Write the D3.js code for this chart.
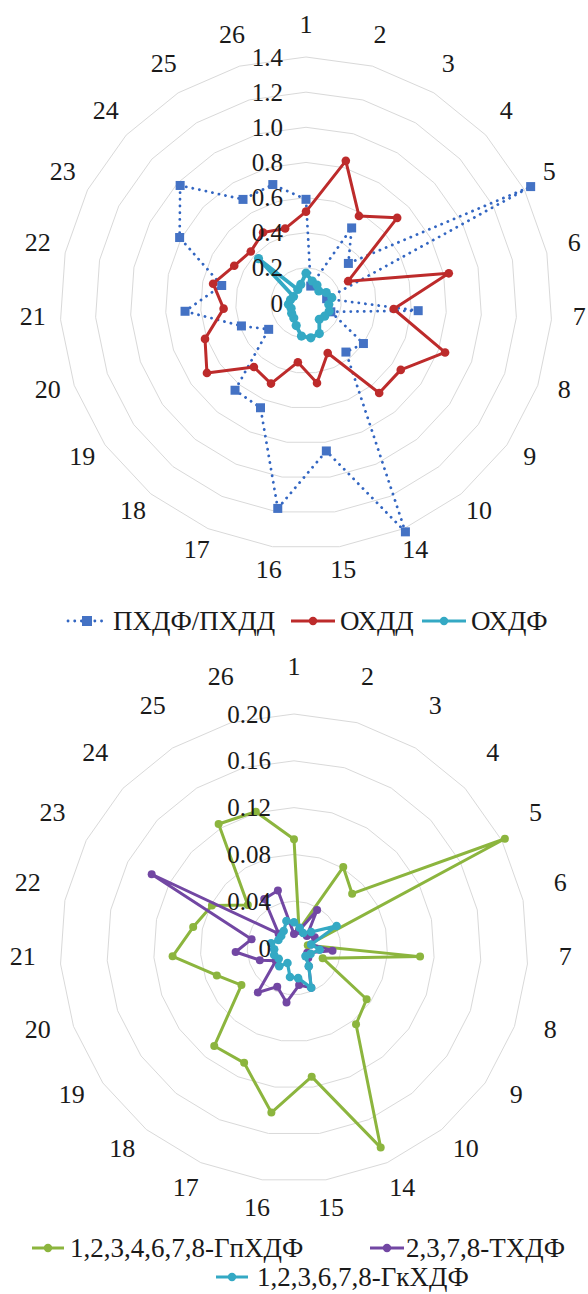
<!DOCTYPE html>
<html><head><meta charset="utf-8">
<script src="https://cdn.jsdelivr.net/npm/d3@7"></script>
<style>
body{margin:0;background:#fff}
svg{display:block}
text{font-family:"Liberation Serif","Times New Roman",serif;fill:#1a1a1a}
</style>
</head><body>
<svg id="c" width="588" height="1294"></svg>
<script>
// ---------- data ----------
const categories = ["1","2","3","4","5","6","7","8","9","10","14","15","16","17","18","19","20","21","22","23","24","25","26"];

// top chart
const pxdfPxdd = [0.59,0.10,0.50,0.33,1.44,0.12,0.64,0.15,0.40,0.36,1.42,0.85,1.18,0.65,0.64,0.26,0.39,0.69,0.49,0.81,0.98,0.69,0.70];
const oxdd     = [0.52,0.84,0.58,0.71,0.27,0.83,0.50,0.84,0.66,0.66,0.31,0.46,0.34,0.50,0.47,0.69,0.61,0.47,0.54,0.46,0.43,0.47,0.44];
const oxdf     = [0.17,0.13,0.12,0.10,0.13,0.15,0.13,0.14,0.13,0.12,0.19,0.20,0.19,0.14,0.11,0.10,0.09,0.10,0.09,0.08,0.37,0.09,0.11];
const topTicks = [0,0.2,0.4,0.6,0.8,1.0,1.2,1.4];
const topTickLabels = ["0","0.2","0.4","0.6","0.8","1.0","1.2","1.4"];
const topNames = ["ПХДФ/ПХДД","ОХДД","ОХДФ"];

// bottom chart
const gpxdf = [0.093,0.016,0.081,0.068,0.203,0.012,0.108,0.026,0.076,0.084,0.186,0.111,0.142,0.107,0.108,0.055,0.070,0.104,0.088,0.079,0.054,0.124,0.121];
const txdf  = [0.012,0.015,0.038,0.015,0.020,0.015,0.033,0.012,0.015,0.020,0.037,0.032,0.047,0.036,0.049,0.019,0.031,0.050,0.037,0.137,0.018,0.049,0.051];
const gkxdf = [0.022,0.018,0.015,0.020,0.041,0.015,0.022,0.015,0.012,0.020,0.037,0.026,0.025,0.014,0.020,0.016,0.018,0.017,0.020,0.015,0.015,0.017,0.024];
const bottomTicks = [0,0.04,0.08,0.12,0.16,0.20];
const bottomTickLabels = ["0","0.04","0.08","0.12","0.16","0.20"];
const bottomNames = ["1,2,3,4,6,7,8-ГпХДФ","2,3,7,8-ТХДФ","1,2,3,6,7,8-ГкХДФ"];

// ---------- styles ----------
const BLUE = "#3366c2", BLUE_M = "#4472c4", RED = "#bd2b2b", CYAN = "#34a9c4", GREEN = "#8cb53e", PURPLE = "#7247a3";
const GRID = "#d9d9d9";

const svg = d3.select("#c");

function drawRadar(opt) {
  const g = svg.append("g").attr("transform", `translate(${opt.cx},${opt.cy})`);
  const ang = d3.scaleBand().domain(categories).range([0, 2 * Math.PI]).paddingInner(0).paddingOuter(0);
  const a = c => ang(c);
  const r = d3.scaleLinear().domain([0, opt.max]).range([0, opt.R]);
  const px = (c, v) => r(v) * Math.sin(a(c));
  const py = (c, v) => -r(v) * Math.cos(a(c));

  // rings
  opt.ticks.filter(t => t > 0).forEach(t => {
    g.append("path")
      .attr("d", d3.lineRadial().angle(c => a(c)).radius(() => r(t)).curve(d3.curveLinearClosed)(categories))
      .attr("fill", "none").attr("stroke", GRID).attr("stroke-width", 1);
  });

  // series
  opt.series.forEach(s => {
    const line = d3.lineRadial().angle((d, i) => a(categories[i])).radius(d => r(d)).curve(d3.curveLinearClosed);
    g.append("path").attr("d", line(s.values))
      .attr("fill", "none").attr("stroke", s.color).attr("stroke-width", s.width)
      .attr("stroke-linejoin", "round")
      .attr("stroke-linecap", s.dotted ? "round" : "butt")
      .attr("stroke-dasharray", s.dotted ? "0.1 6.6" : null);
    const pts = g.append("g");
    s.values.forEach((v, i) => {
      const c = categories[i];
      if (s.marker === "square") {
        pts.append("rect").attr("x", px(c, v) - 4.5).attr("y", py(c, v) - 4.5)
          .attr("width", 9).attr("height", 9).attr("fill", s.mcolor || s.color);
      } else {
        pts.append("circle").attr("cx", px(c, v)).attr("cy", py(c, v)).attr("r", s.mr || 4.2)
          .attr("fill", s.color);
      }
    });
  });

  // tick labels
  opt.ticks.forEach((t, i) => {
    g.append("text").attr("x", -23).attr("y", -r(t)).attr("text-anchor", "end")
      .attr("dominant-baseline", "central").attr("font-size", 25).text(opt.tickLabels[i]);
  });

  // category labels
  categories.forEach(c => {
    g.append("text")
      .attr("x", opt.labelR * Math.sin(a(c)))
      .attr("y", opt.labelDy - opt.labelR * Math.cos(a(c)))
      .attr("text-anchor", "middle").attr("dominant-baseline", "central")
      .attr("font-size", 26).text(c);
  });
}

drawRadar({
  cx: 306, cy: 303, R: 246, max: 1.4, labelR: 274, labelDy: -5,
  ticks: topTicks, tickLabels: topTickLabels,
  series: [
    {values: pxdfPxdd, color: BLUE, mcolor: BLUE_M, width: 2.8, dotted: true, marker: "square"},
    {values: oxdd, color: RED, width: 3, marker: "circle", mr: 4.3},
    {values: oxdf, color: CYAN, width: 3.8, marker: "circle", mr: 4.6}
  ]
});

drawRadar({
  cx: 294, cy: 948, R: 234, max: 0.20, labelR: 272, labelDy: -10,
  ticks: bottomTicks, tickLabels: bottomTickLabels,
  series: [
    {values: gpxdf, color: GREEN, width: 3, marker: "circle", mr: 4},
    {values: txdf, color: PURPLE, width: 3, marker: "circle", mr: 4},
    {values: gkxdf, color: CYAN, width: 3.2, marker: "circle", mr: 4.3}
  ]
});

// ---------- legends ----------
function legendItem(x1, x2, y, textX, name, s) {
  const g = svg.append("g");
  g.append("line").attr("x1", x1).attr("x2", x2).attr("y1", y).attr("y2", y)
    .attr("stroke", s.color).attr("stroke-width", s.width)
    .attr("stroke-linecap", s.dotted ? "round" : "butt")
    .attr("stroke-dasharray", s.dotted ? "0.1 6.6" : null);
  const mx = (x1 + x2) / 2;
  if (s.marker === "square") {
    g.append("rect").attr("x", mx - 5).attr("y", y - 5).attr("width", 10).attr("height", 10).attr("fill", s.mcolor || s.color);
  } else {
    g.append("circle").attr("cx", mx).attr("cy", y).attr("r", 4.2).attr("fill", s.color);
  }
  g.append("text").attr("x", textX).attr("y", y).attr("dominant-baseline", "central")
    .attr("font-size", 27).text(name);
}

legendItem(68, 106, 621, 113, topNames[0], {color: BLUE, mcolor: BLUE_M, width: 2.8, dotted: true, marker: "square"});
legendItem(291, 335, 621, 340, topNames[1], {color: RED, width: 3, marker: "circle"});
legendItem(422, 466, 621, 471, topNames[2], {color: CYAN, width: 3, marker: "circle"});

legendItem(32, 64, 1248, 70, bottomNames[0], {color: GREEN, width: 3, marker: "circle"});
legendItem(370, 404, 1248, 406, bottomNames[1], {color: PURPLE, width: 3, marker: "circle"});
legendItem(216, 248, 1277, 257, bottomNames[2], {color: CYAN, width: 3, marker: "circle"});
</script>
</body></html>
